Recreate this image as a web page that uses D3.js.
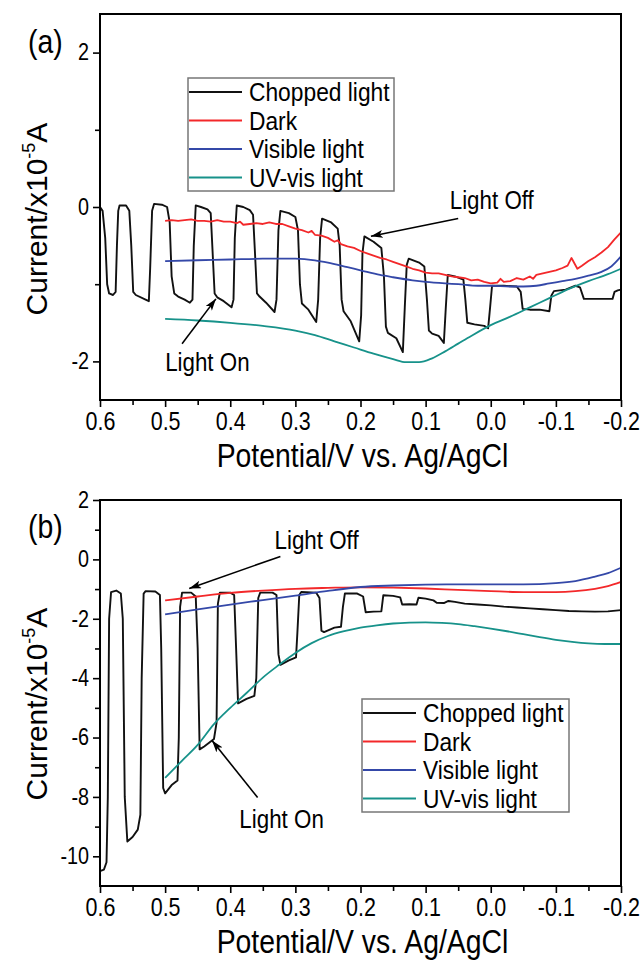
<!DOCTYPE html>
<html><head><meta charset="utf-8">
<script src="https://cdn.jsdelivr.net/npm/d3@7"></script>
<style>
body{margin:0;background:#fff}
text{font-family:Arial,"Liberation Sans",sans-serif;fill:#000}
</style>
</head><body>
<svg id="c" width="642" height="963"></svg>
<script>
// ---------- data ----------
const xMajor = [0.6,0.5,0.4,0.3,0.2,0.1,0.0,-0.1,-0.2];
const xMajorLabels = ["0.6","0.5","0.4","0.3","0.2","0.1","0.0","-0.1","-0.2"];
const xMinor = [0.55,0.45,0.35,0.25,0.15,0.05,-0.05,-0.15];
const yMajorA = [2,0,-2];
const yMajorLabelsA = ["2","0","-2"];
const yMinorA = [1,-1];
const yMajorB = [2,0,-2,-4,-6,-8,-10];
const yMajorLabelsB = ["2","0","-2","-4","-6","-8","-10"];
const yMinorB = [1,-1,-3,-5,-7,-9];
const seriesNames = ["Chopped light","Dark","Visible light","UV-vis light"];
const seriesColors = ["#111111","#f3282a","#3448a8","#17928a"];

const choppedA = [
[0.600,0.00],[0.596,-0.05],[0.592,-0.4],[0.589,-1.0],[0.586,-1.12],[0.580,-1.14],[0.576,-1.1],[0.574,-0.5],[0.572,-0.05],[0.570,0.02],
[0.560,0.02],[0.555,-0.05],[0.552,-0.5],[0.549,-1.1],[0.545,-1.14],[0.530,-1.20],[0.525,-1.22],[0.523,-0.8],[0.520,-0.05],[0.517,0.04],
[0.505,0.03],[0.497,0.0],[0.493,-0.2],[0.490,-0.9],[0.486,-1.12],[0.480,-1.16],[0.470,-1.20],[0.462,-1.24],[0.458,-1.2],[0.456,-0.5],
[0.453,0.02],[0.445,0.0],[0.435,-0.03],[0.430,-0.08],[0.427,-0.6],[0.424,-1.12],[0.420,-1.17],[0.410,-1.22],[0.398,-1.30],[0.395,-1.2],
[0.393,-0.4],[0.390,0.02],[0.380,0.0],[0.370,-0.04],[0.365,-0.1],[0.362,-0.6],[0.359,-1.12],[0.355,-1.16],[0.345,-1.24],[0.332,-1.36],
[0.329,-1.2],[0.326,-0.3],[0.323,-0.05],[0.310,-0.08],[0.300,-0.13],[0.296,-0.3],[0.293,-1.0],[0.290,-1.25],[0.280,-1.33],[0.268,-1.49],
[0.265,-1.2],[0.262,-0.4],[0.259,-0.15],[0.245,-0.2],[0.235,-0.28],[0.232,-0.5],[0.229,-1.2],[0.226,-1.35],[0.215,-1.48],[0.202,-1.74],
[0.199,-1.4],[0.197,-0.6],[0.194,-0.38],[0.180,-0.45],[0.168,-0.53],[0.164,-0.9],[0.161,-1.55],[0.158,-1.63],[0.145,-1.70],[0.135,-1.88],
[0.132,-1.3],[0.129,-0.75],[0.126,-0.67],[0.110,-0.72],[0.102,-0.77],[0.098,-1.2],[0.095,-1.6],[0.090,-1.64],[0.080,-1.67],[0.072,-1.76],
[0.069,-1.3],[0.066,-0.88],[0.055,-0.90],[0.042,-0.94],[0.039,-1.2],[0.036,-1.5],[0.025,-1.52],[0.010,-1.54],[0.004,-1.57],[0.001,-1.3],
[-0.002,-1.02],[-0.020,-1.02],[-0.040,-1.03],[-0.046,-1.10],[-0.049,-1.32],[-0.060,-1.33],[-0.075,-1.33],[-0.090,-1.35],[-0.093,-1.15],
[-0.097,-1.09],[-0.115,-1.07],[-0.130,-1.02],[-0.137,-1.04],[-0.143,-1.19],[-0.150,-1.19],[-0.170,-1.19],[-0.187,-1.19],[-0.190,-1.10],
[-0.195,-1.08],[-0.200,-1.07]];

const darkA = [
[0.50,-0.18],[0.49,-0.17],[0.48,-0.18],[0.47,-0.17],[0.46,-0.16],[0.45,-0.18],[0.44,-0.18],[0.43,-0.19],[0.42,-0.17],[0.41,-0.19],
[0.40,-0.19],[0.39,-0.21],[0.385,-0.19],[0.38,-0.23],[0.37,-0.22],[0.36,-0.21],[0.35,-0.22],[0.34,-0.20],[0.33,-0.22],[0.32,-0.22],
[0.31,-0.25],[0.30,-0.28],[0.29,-0.30],[0.28,-0.33],[0.275,-0.31],[0.27,-0.36],[0.26,-0.37],[0.25,-0.40],[0.24,-0.45],[0.235,-0.43],
[0.23,-0.48],[0.22,-0.51],[0.21,-0.53],[0.20,-0.57],[0.19,-0.60],[0.18,-0.63],[0.17,-0.66],[0.16,-0.68],[0.15,-0.71],[0.14,-0.74],
[0.13,-0.77],[0.12,-0.80],[0.11,-0.82],[0.10,-0.85],[0.09,-0.86],[0.08,-0.86],[0.07,-0.88],[0.06,-0.90],[0.05,-0.91],[0.04,-0.92],
[0.03,-0.95],[0.02,-0.94],[0.01,-0.97],[0.00,-0.99],[-0.01,-0.98],[-0.015,-0.93],[-0.02,-0.97],[-0.03,-0.96],[-0.04,-0.92],[-0.05,-0.94],
[-0.06,-0.90],[-0.065,-0.93],[-0.07,-0.88],[-0.08,-0.86],[-0.09,-0.84],[-0.10,-0.82],[-0.11,-0.79],[-0.118,-0.76],[-0.124,-0.66],
[-0.133,-0.80],[-0.14,-0.76],[-0.15,-0.70],[-0.16,-0.65],[-0.17,-0.59],[-0.18,-0.52],[-0.19,-0.42],[-0.20,-0.33]];

const visibleA = [
[0.50,-0.70],[0.45,-0.69],[0.40,-0.68],[0.35,-0.67],[0.30,-0.67],[0.27,-0.69],[0.25,-0.72],[0.22,-0.78],[0.20,-0.82],[0.17,-0.88],
[0.15,-0.91],[0.12,-0.95],[0.10,-0.97],[0.07,-0.99],[0.05,-1.00],[0.02,-1.02],[0.00,-1.02],[-0.03,-1.03],[-0.05,-1.03],[-0.07,-1.02],
[-0.09,-0.99],[-0.11,-0.96],[-0.13,-0.93],[-0.15,-0.89],[-0.17,-0.84],[-0.185,-0.77],[-0.20,-0.64]];

const uvA = [
[0.50,-1.45],[0.45,-1.47],[0.40,-1.50],[0.35,-1.54],[0.30,-1.60],[0.27,-1.66],[0.24,-1.74],[0.21,-1.82],[0.18,-1.90],[0.15,-1.97],
[0.13,-2.01],[0.11,-2.01],[0.09,-1.96],[0.07,-1.87],[0.05,-1.77],[0.03,-1.67],[0.00,-1.53],[-0.03,-1.42],[-0.06,-1.30],[-0.09,-1.18],
[-0.12,-1.06],[-0.15,-0.96],[-0.18,-0.87],[-0.20,-0.80]];

const choppedB = [
[0.600,-10.5],[0.594,-10.45],[0.590,-10.2],[0.588,-8],[0.586,-2],[0.583,-1.1],[0.575,-1.05],[0.568,-1.15],[0.565,-2],[0.562,-8],
[0.558,-9.5],[0.550,-9.35],[0.542,-9.1],[0.538,-8.6],[0.536,-4],[0.533,-1.15],[0.530,-1.07],[0.515,-1.08],[0.508,-1.2],[0.506,-3],
[0.503,-7.7],[0.500,-7.88],[0.490,-7.6],[0.481,-7.45],[0.479,-6],[0.477,-1.6],[0.474,-1.12],[0.460,-1.12],[0.453,-1.25],[0.450,-3],
[0.447,-6.4],[0.440,-6.3],[0.425,-6.05],[0.421,-5.5],[0.419,-1.5],[0.416,-1.12],[0.400,-1.12],[0.394,-1.2],[0.391,-3],[0.388,-4.85],
[0.375,-4.7],[0.363,-4.6],[0.360,-4],[0.357,-1.3],[0.354,-1.12],[0.335,-1.12],[0.329,-1.2],[0.326,-3.2],[0.323,-3.55],[0.310,-3.4],
[0.299,-3.3],[0.297,-2.5],[0.294,-1.2],[0.291,-1.1],[0.268,-1.12],[0.263,-1.3],[0.260,-2.4],[0.256,-2.45],[0.240,-2.3],[0.230,-2.27],
[0.227,-1.6],[0.224,-1.15],[0.205,-1.15],[0.196,-1.25],[0.192,-1.78],[0.180,-1.76],[0.168,-1.75],[0.165,-1.21],[0.150,-1.23],[0.139,-1.28],
[0.136,-1.52],[0.125,-1.51],[0.114,-1.52],[0.111,-1.29],[0.100,-1.32],[0.088,-1.38],[0.083,-1.46],[0.072,-1.47],[0.065,-1.40],[0.055,-1.43],
[0.040,-1.49],[0.020,-1.52],[0.000,-1.55],[-0.020,-1.59],[-0.040,-1.62],[-0.060,-1.65],[-0.080,-1.68],[-0.100,-1.71],[-0.120,-1.74],
[-0.140,-1.75],[-0.160,-1.76],[-0.180,-1.75],[-0.200,-1.71]];

const darkB = [
[0.50,-1.38],[0.45,-1.25],[0.40,-1.13],[0.35,-1.05],[0.30,-0.99],[0.25,-0.96],[0.20,-0.94],[0.15,-0.95],[0.10,-0.98],[0.05,-1.03],
[0.00,-1.07],[-0.05,-1.10],[-0.10,-1.10],[-0.13,-1.07],[-0.16,-0.99],[-0.18,-0.90],[-0.20,-0.76]];

const visibleB = [
[0.50,-1.85],[0.45,-1.68],[0.40,-1.52],[0.35,-1.37],[0.30,-1.22],[0.25,-1.06],[0.20,-0.93],[0.15,-0.88],[0.10,-0.85],[0.05,-0.84],
[0.00,-0.84],[-0.05,-0.84],[-0.10,-0.80],[-0.13,-0.73],[-0.16,-0.58],[-0.18,-0.46],[-0.20,-0.28]];

const uvB = [
[0.50,-7.36],[0.475,-6.80],[0.45,-6.25],[0.425,-5.55],[0.40,-5.00],[0.375,-4.50],[0.35,-3.98],[0.325,-3.55],[0.30,-3.15],[0.275,-2.82],
[0.25,-2.58],[0.225,-2.42],[0.20,-2.30],[0.175,-2.22],[0.15,-2.16],[0.125,-2.13],[0.10,-2.12],[0.075,-2.14],[0.05,-2.18],[0.025,-2.25],
[0.00,-2.33],[-0.025,-2.42],[-0.05,-2.52],[-0.075,-2.62],[-0.10,-2.71],[-0.125,-2.78],[-0.15,-2.83],[-0.175,-2.85],[-0.20,-2.85]];

// annotations in data coordinates: [text, textV, textI, fromV, fromI, toV, toI]
const annA = [["Light Off",0.063,-0.02,0.050,-0.15,0.184,-0.38],["Light On",0.50,-2.12,0.474,-1.77,0.422,-1.19]];
const annB = [["Light Off",0.332,0.34,0.323,0.10,0.463,-0.98],["Light On",0.386,-9.03,0.358,-8.02,0.428,-6.10]];

// ---------- drawing ----------
const SX = 0.86; // horizontal glyph condensation of the original figure
const svg = d3.select("#c");
svg.append("defs").append("marker").attr("id","ah").attr("viewBox","0 0 12 8")
  .attr("refX",12).attr("refY",4).attr("markerWidth",12).attr("markerHeight",8)
  .attr("markerUnits","userSpaceOnUse").attr("orient","auto")
  .append("path").attr("d","M0,0 L12,4 L0,8 L3,4 z").attr("fill","#000");

function label(g, x, y, str, size, anchor) {
  return g.append("text").attr("transform",`translate(${x},${y}) scale(${SX},1)`)
    .attr("text-anchor",anchor||"start").attr("font-size",size).text(str);
}

const L = 100, R = 621;
const panels = [
  {label:"(a)", top:14, bottom:400, dom:[-2.5,2.5], yMaj:yMajorA, yLab:yMajorLabelsA, yMin:yMinorA,
   series:[choppedA,darkA,visibleA,uvA], curves:[d3.curveLinear,d3.curveLinear,d3.curveMonotoneX,d3.curveMonotoneX],
   ann:annA, legend:{x:188,y:78,w:206,h:113}, labY:53, titleY:219},
  {label:"(b)", top:500, bottom:886, dom:[-11,2], yMaj:yMajorB, yLab:yMajorLabelsB, yMin:yMinorB,
   series:[choppedB,darkB,visibleB,uvB], curves:[d3.curveLinear,d3.curveMonotoneX,d3.curveMonotoneX,d3.curveMonotoneX],
   ann:annB, legend:{x:362,y:699,w:207,h:113}, labY:538, titleY:704}
];

panels.forEach(p => {
  const x = d3.scaleLinear().domain([0.6,-0.2]).range([L,R]);
  const y = d3.scaleLinear().domain(p.dom).range([p.bottom,p.top]);
  const g = svg.append("g");

  // series
  p.series.forEach((s,i) => {
    g.append("path").datum(s)
      .attr("fill","none").attr("stroke",seriesColors[i]).attr("stroke-width",i===0?1.9:1.8)
      .attr("stroke-linejoin","round")
      .attr("d", d3.line().x(d=>x(d[0])).y(d=>y(d[1])).curve(p.curves[i]));
  });

  // axes
  const xa = g.append("g").attr("transform",`translate(0,${p.bottom})`)
    .call(d3.axisBottom(x).tickValues(xMajor).tickFormat((d,i)=>xMajorLabels[i]).tickSize(7).tickPadding(5));
  const xm = g.append("g").attr("transform",`translate(0,${p.bottom})`)
    .call(d3.axisBottom(x).tickValues(xMinor).tickFormat("").tickSize(5));
  const ya = g.append("g").attr("transform",`translate(${L},0)`)
    .call(d3.axisLeft(y).tickValues(p.yMaj).tickFormat((d,i)=>p.yLab[i]).tickSize(7).tickPadding(4));
  const ym = g.append("g").attr("transform",`translate(${L},0)`)
    .call(d3.axisLeft(y).tickValues(p.yMin).tickFormat("").tickSize(5));
  [xa,xm,ya,ym].forEach(a => { a.select(".domain").remove(); a.selectAll("line").attr("stroke","#000").attr("stroke-width",1.6); });
  xa.selectAll("text").attr("font-size",25).attr("font-family","Arial, Liberation Sans, sans-serif").attr("fill","#000")
    .attr("transform",`scale(${SX},1)`);
  ya.selectAll("text").attr("font-size",23).attr("font-family","Arial, Liberation Sans, sans-serif").attr("fill","#000")
    .attr("transform",`scale(${SX},1)`).attr("x",-11/SX);

  // frame
  g.append("rect").attr("x",L).attr("y",p.top).attr("width",R-L).attr("height",p.bottom-p.top)
    .attr("fill","none").attr("stroke","#000").attr("stroke-width",2);

  // axis titles
  label(g, (L+R)/2 + 2, p.bottom+67, "Potential/V vs. Ag/AgCl", 33, "middle");
  const yt = g.append("text").attr("transform",`translate(47,${p.titleY}) rotate(-90)`)
    .attr("text-anchor","middle").attr("font-size",30);
  yt.append("tspan").text("Current/x10");
  yt.append("tspan").attr("font-size",18).attr("dy",-12).text("-5");
  yt.append("tspan").attr("dy",12).text("A");

  // panel label
  label(g, 28, p.labY, p.label, 33);

  // legend
  const lg = g.append("g");
  lg.append("rect").attr("x",p.legend.x).attr("y",p.legend.y).attr("width",p.legend.w).attr("height",p.legend.h)
    .attr("fill","#fff").attr("stroke","#777").attr("stroke-width",1.5);
  seriesNames.forEach((n,i) => {
    const cy = p.legend.y + 14 + i*28.5;
    lg.append("line").attr("x1",p.legend.x+1).attr("x2",p.legend.x+54).attr("y1",cy).attr("y2",cy)
      .attr("stroke",seriesColors[i]).attr("stroke-width",2);
    label(lg, p.legend.x+61, cy+9, n, 26.5);
  });

  // annotations
  p.ann.forEach(a => {
    label(g, x(a[1]), y(a[2]), a[0], 26);
    g.append("line").attr("x1",x(a[3])).attr("y1",y(a[4])).attr("x2",x(a[5])).attr("y2",y(a[6]))
      .attr("stroke","#000").attr("stroke-width",1.6).attr("marker-end","url(#ah)");
  });
});
</script>
</body></html>
